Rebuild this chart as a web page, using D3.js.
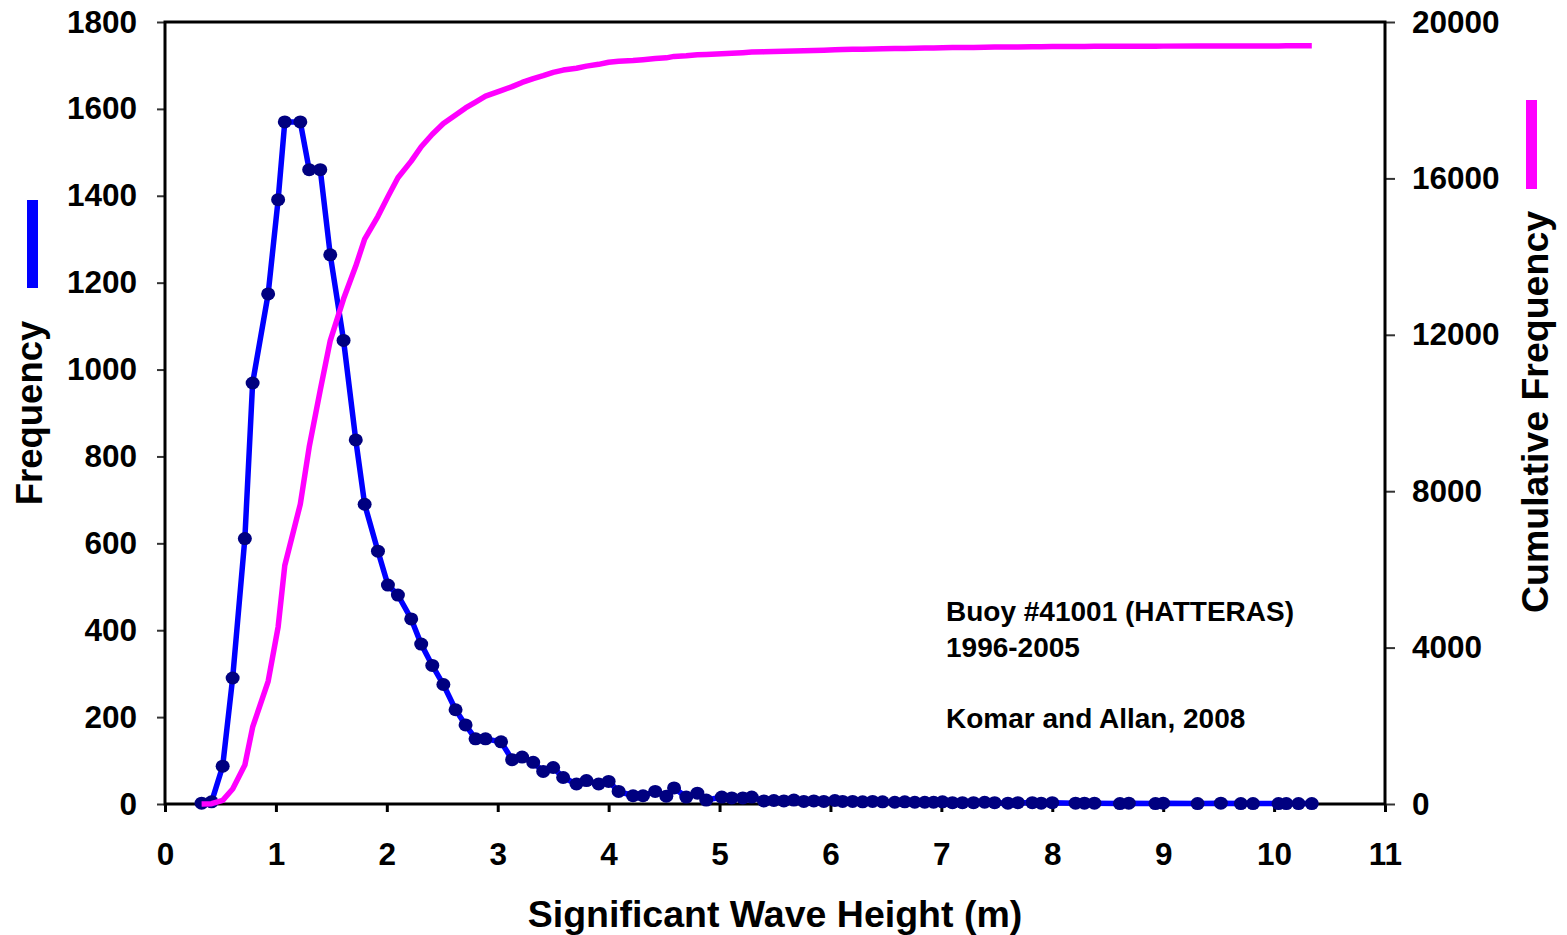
<!DOCTYPE html>
<html>
<head>
<meta charset="utf-8">
<script src="https://cdn.jsdelivr.net/npm/d3@7"></script>
<style>
  body { margin: 0; background: #fff; }
  svg text { font-family: "Liberation Sans", Arial, sans-serif; font-weight: bold; fill: #000; }
</style>
</head>
<body>
<svg id="chart" width="1567" height="935"></svg>
<script>
// wave height bins (m)
const waveHeight = [
  0.33, 0.42, 0.52, 0.61, 0.72, 0.79, 0.93, 1.02, 1.08, 1.22,
  1.30, 1.40, 1.49, 1.61, 1.72, 1.80, 1.92, 2.01, 2.10, 2.22,
  2.31, 2.41, 2.51, 2.62, 2.71, 2.80, 2.89, 3.03, 3.13, 3.22,
  3.32, 3.41, 3.50, 3.59, 3.71, 3.80, 3.91, 4.00, 4.09, 4.22,
  4.31, 4.42, 4.52, 4.59, 4.70, 4.80, 4.88, 5.02, 5.11, 5.21,
  5.29, 5.40, 5.49, 5.58, 5.67, 5.76, 5.85, 5.94, 6.04, 6.11,
  6.20, 6.29, 6.38, 6.47, 6.58, 6.67, 6.76, 6.85, 6.93, 7.01,
  7.10, 7.19, 7.29, 7.39, 7.48, 7.60, 7.69, 7.82, 7.90, 8.00,
  8.21, 8.29, 8.38, 8.61, 8.69, 8.93, 9.00, 9.31, 9.52, 9.70,
  9.81, 10.04, 10.11, 10.22, 10.34
];

// frequency per bin (left axis)
const frequency = [
  2, 5, 87, 290, 611, 969, 1174, 1391, 1570, 1570,
  1460, 1460, 1264, 1067, 838, 690, 582, 504, 481, 426,
  368, 319, 275, 217, 182, 150, 150, 143, 102, 108,
  96, 75, 84, 61, 46, 54, 46, 52, 29, 19,
  19, 29, 18, 37, 16, 25, 9, 16, 14, 14,
  16, 7, 8, 7, 9, 6, 7, 6, 8, 6,
  6, 5, 6, 5, 4, 5, 4, 4, 4, 5,
  3, 3, 3, 4, 3, 2, 3, 3, 2, 3,
  2, 2, 2, 1, 2, 1, 2, 1, 2, 1,
  1, 1, 1, 1, 1
];

// cumulative frequency (right axis)
const cumulative = [
  2, 7, 94, 384, 995, 1964, 3138, 4529, 6099, 7669,
  9129, 10589, 11853, 12920, 13758, 14448, 15030, 15534, 16015, 16441,
  16809, 17128, 17403, 17620, 17802, 17952, 18102, 18245, 18347, 18455,
  18551, 18626, 18710, 18771, 18817, 18871, 18917, 18969, 18998, 19017,
  19036, 19065, 19083, 19120, 19136, 19161, 19170, 19186, 19200, 19214,
  19230, 19237, 19245, 19252, 19261, 19267, 19274, 19280, 19288, 19294,
  19300, 19305, 19311, 19316, 19320, 19325, 19329, 19333, 19337, 19342,
  19345, 19348, 19351, 19355, 19358, 19360, 19363, 19366, 19368, 19371,
  19373, 19375, 19377, 19378, 19380, 19381, 19383, 19384, 19386, 19387,
  19388, 19389, 19390, 19391, 19392
];

const xTicks = [0, 1, 2, 3, 4, 5, 6, 7, 8, 9, 10, 11];
const yTicks = [0, 200, 400, 600, 800, 1000, 1200, 1400, 1600, 1800];
const y2Ticks = [0, 4000, 8000, 12000, 16000, 20000];
const noteLines = ["Buoy #41001 (HATTERAS)", "1996-2005", "", "Komar and Allan, 2008"];

const margin = { top: 22, right: 182, bottom: 131, left: 165 };
const width = 1567, height = 935;

const svg = d3.select("#chart");

const x = d3.scaleLinear().domain([0, 11]).range([margin.left, width - margin.right]);
const y = d3.scaleLinear().domain([0, 1800]).range([height - margin.bottom, margin.top]);
const y2 = d3.scaleLinear().domain([0, 20000]).range([height - margin.bottom, margin.top]);

const rows = waveHeight.map((h, i) => ({ h: h, f: frequency[i], c: cumulative[i] }));

// axes
const xAxis = svg.append("g")
  .attr("transform", `translate(0, ${height - margin.bottom})`)
  .call(d3.axisBottom(x).tickValues(xTicks).tickFormat(d3.format("d")).tickSize(8).tickPadding(31));
xAxis.selectAll("line").attr("stroke", "#000").attr("stroke-width", 3);

const yAxis = svg.append("g")
  .attr("transform", `translate(${margin.left}, 0)`)
  .call(d3.axisLeft(y).tickValues(yTicks).tickFormat(d3.format("d")).tickSize(8).tickPadding(20));
yAxis.selectAll("line").attr("stroke", "#333").attr("stroke-width", 2);

const y2Axis = svg.append("g")
  .attr("transform", `translate(${width - margin.right}, 0)`)
  .call(d3.axisRight(y2).tickValues(y2Ticks).tickFormat(d3.format("d")).tickSize(10).tickPadding(17));
y2Axis.selectAll("line").attr("stroke", "#333").attr("stroke-width", 2);

svg.selectAll(".domain").remove();
svg.selectAll(".tick text")
  .style("font-size", "31.5px")
  .style("font-family", '"Liberation Sans", Arial, sans-serif')
  .style("font-weight", "bold")
  .attr("fill", "#000");

// plot frame
svg.append("rect")
  .attr("x", margin.left)
  .attr("y", margin.top)
  .attr("width", width - margin.left - margin.right)
  .attr("height", height - margin.top - margin.bottom)
  .attr("fill", "none")
  .attr("stroke", "#000")
  .attr("stroke-width", 3);

// frequency line + markers
svg.append("path")
  .datum(rows)
  .attr("fill", "none")
  .attr("stroke", "#0000ff")
  .attr("stroke-width", 5.5)
  .attr("stroke-linejoin", "round")
  .attr("d", d3.line().x(d => x(d.h)).y(d => y(d.f)));

svg.append("g").selectAll("ellipse")
  .data(rows)
  .enter()
  .append("ellipse")
  .attr("cx", d => x(d.h))
  .attr("cy", d => y(d.f))
  .attr("rx", 7)
  .attr("ry", 6.5)
  .attr("fill", "#000080");

// cumulative line (secondary axis, drawn on top)
svg.append("path")
  .datum(rows)
  .attr("fill", "none")
  .attr("stroke", "#ff00ff")
  .attr("stroke-width", 5.5)
  .attr("stroke-linejoin", "round")
  .attr("d", d3.line().x(d => x(d.h)).y(d => y2(d.c)));

// axis titles
svg.append("text")
  .attr("x", 775)
  .attr("y", 927)
  .attr("text-anchor", "middle")
  .style("font-size", "37.5px")
  .text("Significant Wave Height (m)");

svg.append("text")
  .attr("transform", "translate(42, 413) rotate(-90)")
  .attr("text-anchor", "middle")
  .style("font-size", "36.5px")
  .text("Frequency");

svg.append("text")
  .attr("transform", "translate(1548, 412) rotate(-90)")
  .attr("text-anchor", "middle")
  .style("font-size", "37.5px")
  .text("Cumulative Frequency");

// colour keys beside the axis titles
svg.append("rect").attr("x", 27).attr("y", 200).attr("width", 11).attr("height", 88).attr("fill", "#0000ff");
svg.append("rect").attr("x", 1526).attr("y", 100).attr("width", 11).attr("height", 89).attr("fill", "#ff00ff");

// note
svg.append("g").selectAll("text")
  .data(noteLines)
  .enter()
  .append("text")
  .attr("x", 946)
  .attr("y", (d, i) => 621 + i * 35.7)
  .style("font-size", "28px")
  .text(d => d);
</script>
</body>
</html>
